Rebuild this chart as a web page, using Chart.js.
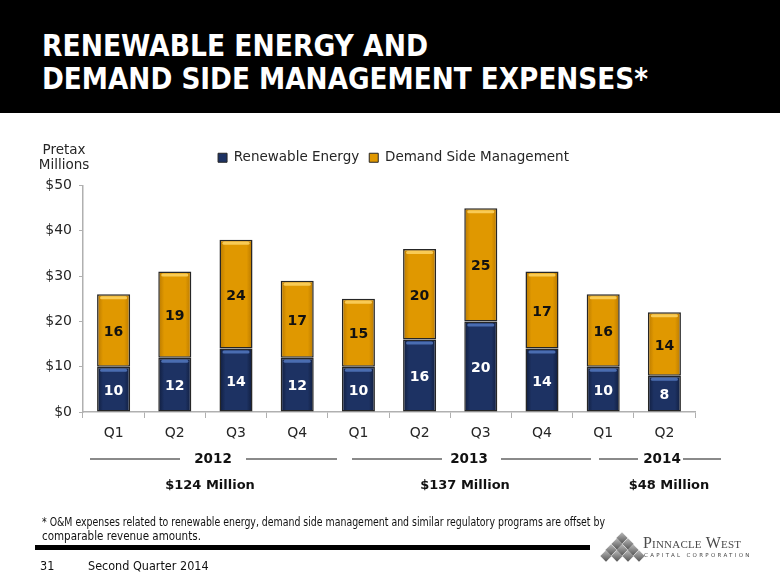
<!DOCTYPE html>
<html><head><meta charset="utf-8">
<script src="https://cdn.jsdelivr.net/npm/chart.js@4.4.1/dist/chart.umd.min.js"></script>
<style>
html,body{margin:0;padding:0;background:#fff;}
#wrap{position:relative;width:780px;height:585px;overflow:hidden;font-family:"DejaVu Sans",sans-serif;}
#c{position:absolute;left:0;top:0;}
.abs{position:absolute;white-space:nowrap;line-height:1;}
#bar{left:0;top:0;width:780px;height:113px;background:#000;}
.title{color:#fff;font-family:"DejaVu Sans Condensed","DejaVu Sans",sans-serif;font-weight:bold;font-size:30px;left:42px;transform-origin:0 0;}
.unit{font-size:13.5px;color:#262626;text-align:center;width:80px;left:24px;}
.yr{font-weight:bold;font-size:13.5px;color:#111;transform:translate(-50%,0);}
.tot{font-weight:bold;font-size:13px;color:#111;transform:translate(-50%,0);}
.hl{height:1.5px;background:#8a8a8a;top:458px;}
.foot{font-family:"DejaVu Sans Condensed","DejaVu Sans",sans-serif;font-size:11.5px;color:#111;left:42px;transform-origin:0 0;}
.pg{font-family:"DejaVu Sans Condensed","DejaVu Sans",sans-serif;font-size:12.5px;color:#111;}
.dia{width:8px;height:8px;transform:rotate(45deg);background:linear-gradient(135deg,#b8b8b8,#555);}
</style></head>
<body><div id="wrap">
<canvas id="c" width="780" height="585"></canvas>
<div class="abs" id="bar"></div>
<div class="abs title" id="t1" style="top:31px">RENEWABLE ENERGY AND</div>
<div class="abs title" id="t2" style="top:64px">DEMAND SIDE MANAGEMENT EXPENSES*</div>
<div class="abs unit" style="top:143px">Pretax</div>
<div class="abs unit" style="top:158px">Millions</div>
<div id="years"></div>
<div class="abs foot" id="f1" style="top:517px">* O&amp;M expenses related to renewable energy, demand side management and similar regulatory programs are offset by</div>
<div class="abs foot" id="f2" style="top:531px">comparable revenue amounts.</div>
<div class="abs" style="left:35px;top:545px;width:555px;height:5px;background:#000"></div>
<div class="abs pg" style="left:40px;top:560px">31</div>
<div class="abs pg" style="left:88px;top:560px">Second Quarter 2014</div>
<div id="logo"></div>
<div class="abs" style="left:643px;top:535px;font-family:'Liberation Serif',serif;font-size:16px;color:#4a4a4a;font-variant:small-caps;letter-spacing:0.2px">Pinnacle West</div>
<div class="abs" style="left:644px;top:553px;font-family:'DejaVu Sans',sans-serif;font-size:5.5px;color:#4a4a4a;letter-spacing:2.3px">CAPITAL CORPORATION</div>
</div>
<script>
const quarters = ['Q1','Q2','Q3','Q4','Q1','Q2','Q3','Q4','Q1','Q2'];
const renewable = [10,12,14,12,10,16,20,14,10,8];
const dsm = [16,19,24,17,15,20,25,17,16,14];
const yTickValues = [0,10,20,30,40,50];
const years = ['2012','2013','2014'];
const yearTotals = ['$124 Million','$137 Million','$48 Million'];
const seriesNames = ['Renewable Energy','Demand Side Management'];

function fitWidth(id, w){const el=document.getElementById(id);const r=el.getBoundingClientRect().width;el.style.transform='scaleX('+(w/r)+')';}
fitWidth('t1',386);fitWidth('t2',606);fitWidth('f1',563);

const yPos=[{c:213,l:[90,180],r:[246,337]},{c:469,l:[352,442],r:[501,591]},{c:662,l:[599,638],r:[683,721]}];
const yd=document.getElementById('years');
years.forEach((y,i)=>{const p=yPos[i];
  yd.insertAdjacentHTML('beforeend',`<div class="abs yr" style="left:${p.c}px;top:452px">${y}</div>`+
  `<div class="abs hl" style="left:${p.l[0]}px;width:${p.l[1]-p.l[0]}px"></div>`+
  `<div class="abs hl" style="left:${p.r[0]}px;width:${p.r[1]-p.r[0]}px"></div>`);
});
const tPos=[210,465,669];
yearTotals.forEach((t,i)=>yd.insertAdjacentHTML('beforeend',`<div class="abs tot" style="left:${tPos[i]}px;top:478px">${t}</div>`));

const lg=document.getElementById('logo');
for(let r=0;r<4;r++){for(let k=0;k<=r;k++){const x=618+(k-r/2)*11;const y=534+r*6;
  lg.insertAdjacentHTML('beforeend',`<div class="abs dia" style="left:${x}px;top:${y}px"></div>`);}}

const BAR_W=33;
function grad(ctx, edge, mid){
  const chart=ctx.chart;
  if(!chart.chartArea||ctx.type!=='data') return mid;
  const x=chart.scales.x.getPixelForValue(ctx.dataIndex);
  const g=chart.ctx.createLinearGradient(x-BAR_W/2,0,x+BAR_W/2,0);
  g.addColorStop(0,edge);g.addColorStop(0.18,mid);g.addColorStop(0.82,mid);g.addColorStop(1,edge);
  return g;
}
const bevel={id:'bevel',afterDatasetsDraw(chart){
  const c=chart.ctx;
  chart.data.datasets.forEach((ds,di)=>{
    const meta=chart.getDatasetMeta(di);
    meta.data.forEach((el,i)=>{
      const {x,y,base,width}=el.getProps(['x','y','base','width'],true);
      c.save();
      c.fillStyle=di===0?'rgba(80,115,185,0.9)':'rgba(250,205,90,0.95)';
      c.beginPath();
      const l=x-width/2+3,w=width-6;
      c.roundRect(l,y+2,w,3,1.5);c.fill();
      c.font='bold 14px "DejaVu Sans", sans-serif';
      c.textAlign='center';c.textBaseline='middle';
      c.fillStyle=di===0?'#ffffff':'#111111';
      c.fillText(String(ds.data[i]),x,(y+base)/2+2);
      c.restore();
    });
  });
}};
const legendAdjust={id:'legendAdjust',
  beforeInit(chart){const f=chart.legend.fit;chart.legend.fit=function(){f.bind(chart.legend)();this.height+=11;};},
  afterLayout(chart){chart.legend.left+=46;chart.legend.right+=46;}};

new Chart(document.getElementById('c'),{
  type:'bar',
  data:{labels:quarters,datasets:[
    {label:seriesNames[0],data:renewable,backgroundColor:c=>grad(c,'#101d3d','#1d3263'),borderColor:'#262626',borderWidth:1.5,borderSkipped:false},
    {label:seriesNames[1],data:dsm,backgroundColor:c=>grad(c,'#b87800','#e09800'),borderColor:'#262626',borderWidth:1.5,borderSkipped:false}
  ]},
  options:{
    responsive:false,animation:false,devicePixelRatio:1,
    layout:{padding:{left:0,right:85,top:141,bottom:133}},
    datasets:{bar:{barPercentage:0.54,categoryPercentage:1}},
    plugins:{
      legend:{position:'top',labels:{boxWidth:9,boxHeight:9,padding:10,color:'#262626',font:{family:'"DejaVu Sans", sans-serif',size:13.5},
        generateLabels(chart){return chart.data.datasets.map((d,i)=>({text:d.label,fillStyle:i===0?'#1d3263':'#e09800',strokeStyle:'#262626',lineWidth:1,datasetIndex:i,fontColor:'#262626'}));}}},
      tooltip:{enabled:false}
    },
    scales:{
      x:{stacked:true,afterFit(s){s.height=40;},
        grid:{offset:true,drawOnChartArea:false,drawTicks:true,tickLength:6,color:'#b0b0b0'},
        border:{color:'#b0b0b0',width:1.5},
        ticks:{color:'#262626',padding:7,font:{family:'"DejaVu Sans", sans-serif',size:14}}},
      y:{stacked:true,min:0,max:50,afterFit(s){s.width=83;},
        afterBuildTicks(s){s.ticks=yTickValues.map(v=>({value:v}));},
        grid:{drawOnChartArea:false,drawTicks:true,tickLength:4,color:'#b0b0b0'},
        border:{color:'#b0b0b0',width:1.5},
        ticks:{color:'#262626',padding:7,font:{family:'"DejaVu Sans", sans-serif',size:14},callback:v=>'$'+v}}
    }
  },
  plugins:[bevel,legendAdjust]
});
</script>
</body></html>
